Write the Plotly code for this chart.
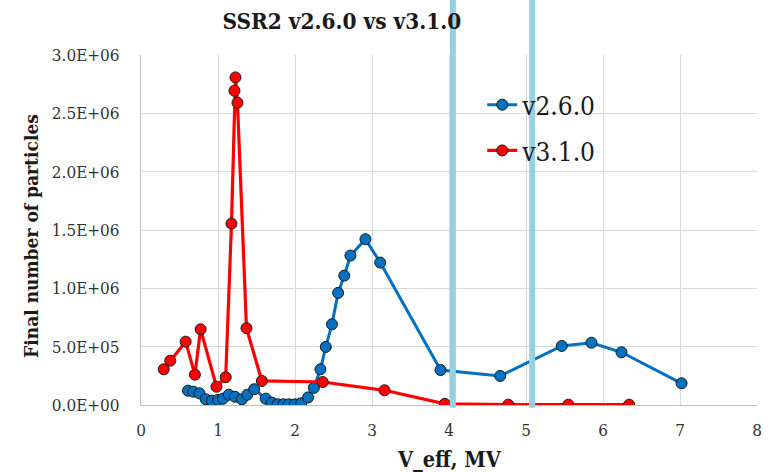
import plotly.graph_objects as go

# ---- data ----
v260_x = [0.61, 0.68, 0.76, 0.84, 0.92, 1.0, 1.065, 1.14, 1.22, 1.31, 1.38, 1.47,
          1.62, 1.70, 1.775, 1.85, 1.92, 2.0, 2.08, 2.17, 2.245, 2.33, 2.40, 2.48,
          2.56, 2.64, 2.72, 2.915, 3.107, 3.89, 4.665, 5.465, 5.85, 6.24, 7.02]
v260_y = [123e3, 114e3, 100e3, 49e3, 37e3, 43e3, 54e3, 88e3, 71e3, 49e3, 88e3, 135e3,
          54e3, 20e3, 6e3, 6e3, 6e3, 6e3, 15e3, 65e3, 147e3, 306e3, 498e3, 692e3,
          961e3, 1109e3, 1281e3, 1421e3, 1221e3, 300e3, 249e3, 506e3, 534e3, 452e3, 186e3]

v310_x = [0.295, 0.38, 0.58, 0.70, 0.774, 0.98, 1.10, 1.175, 1.214, 1.227, 1.253,
          1.37, 1.57, 2.36, 3.163, 3.946, 4.77, 5.55, 6.34]
v310_y = [306e3, 380e3, 543e3, 260e3, 649e3, 157e3, 238e3, 1555e3, 2694e3, 2808e3,
          2591e3, 658e3, 206e3, 197e3, 126e3, 10e3, 3e3, 3e3, 3e3]

y_tickvals = [0, 5e5, 1e6, 1.5e6, 2e6, 2.5e6, 3e6]
y_ticktext = ["0.0E+00", "5.0E+05", "1.0E+06", "1.5E+06", "2.0E+06", "2.5E+06", "3.0E+06"]
x_tickvals = [0, 1, 2, 3, 4, 5, 6, 7, 8]
marker_lines_x = [4.05, 5.08]

SERIF = "DejaVu Serif Condensed"

fig = go.Figure()
fig.add_trace(go.Scatter(
    x=v260_x, y=v260_y, mode="lines+markers", name="v2.6.0", legendgroup="a",
    line=dict(color="#0070C0", width=3),
    marker=dict(color="#0070C0", size=11, line=dict(color="#1a1a1a", width=1)),
))
fig.add_trace(go.Scatter(
    x=v310_x, y=v310_y, mode="lines+markers", name="v3.1.0", legendgroup="b",
    line=dict(color="#FF0000", width=3.2),
    marker=dict(color="#FF0000", size=11, line=dict(color="#1a1a1a", width=1)),
))

for xv in marker_lines_x:
    fig.add_shape(type="line", xref="x", yref="paper", x0=xv, x1=xv, y0=-0.008, y1=1.2,
                  line=dict(color="#96D0E3", width=6), layer="above")

fig.add_annotation(text="<b>V_eff, MV</b>", xref="paper", yref="paper", x=0.5, y=-0.157,
                   xanchor="center", yanchor="middle", showarrow=False,
                   font=dict(family=SERIF, size=21.5, color="#1a1a1a"))
fig.add_annotation(text="<b>Final number of particles</b>", xref="paper", yref="paper",
                   x=-0.1786, y=0.483, xanchor="center", yanchor="middle", textangle=-90,
                   showarrow=False, font=dict(family=SERIF, size=19, color="#1a1a1a"))

fig.update_layout(
    width=770, height=472,
    margin=dict(l=141, r=13, t=55, b=67, autoexpand=False),
    paper_bgcolor="white", plot_bgcolor="white",
    font=dict(family=SERIF, color="#333333"),
    title=dict(text="<b>SSR2 v2.6.0 vs v3.1.0</b>", x=0.444, xref="container",
               xanchor="center", y=1 - 21 / 472, yref="container", yanchor="middle",
               font=dict(family=SERIF, size=22.4, color="#1a1a1a")),
    showlegend=True,
    legend=dict(x=0.554, y=0.925, xanchor="left", yanchor="top",
                bgcolor="rgba(0,0,0,0)", font=dict(family=SERIF, size=26, color="#1a1a1a"),
                tracegroupgap=9, traceorder="grouped"),
    xaxis=dict(range=[0, 8], tickvals=x_tickvals, showgrid=True, gridcolor="#d9d9d9",
               gridwidth=1, showline=True, linecolor="#bfbfbf", linewidth=1, zeroline=False,
               ticks="", ticklabelstandoff=10, automargin=False,
               tickfont=dict(family=SERIF, size=17, color="#333333")),
    yaxis=dict(range=[0, 3e6], tickvals=y_tickvals, ticktext=y_ticktext, showgrid=True,
               gridcolor="#d9d9d9", gridwidth=1, showline=True, linecolor="#bfbfbf",
               linewidth=1, zeroline=False, ticks="", ticklabelstandoff=17, automargin=False,
               tickfont=dict(family=SERIF, size=17, color="#333333")),
)

fig.write_html("out.html")
